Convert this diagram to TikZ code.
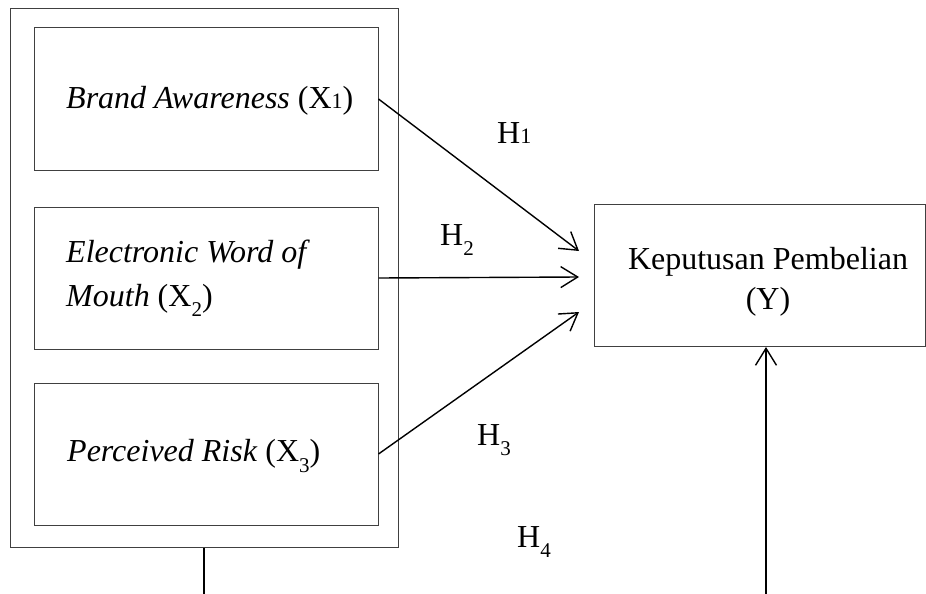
\documentclass[tikz,border=0pt]{standalone}
\usepackage{fontspec}
\setmainfont{Liberation Serif}
\usetikzlibrary{arrows.meta}
\newcommand{\lowsub}[1]{\raisebox{-0.32em}{\fontsize{21}{21}\selectfont #1}}
\begin{document}
\begin{tikzpicture}[x=1pt,y=-1pt,
  box/.style={draw=black!75, line width=1pt, inner sep=0pt},
  varbox/.style={box, minimum width=344pt, minimum height=142pt},
  vartext/.style={anchor=west, inner sep=0pt, align=left, font=\fontsize{32}{44}\selectfont},
  conn/.style={line width=1.4pt, -{Straight Barb[length=17pt,width=21pt,line width=1.4pt]}},
  plain/.style={line width=1.4pt},
  hlab/.style={anchor=base west, inner sep=0pt, font=\fontsize{32}{36}\selectfont}]
\useasboundingbox (0,0) rectangle (926,594);
% boxes
\node[box, minimum width=388pt, minimum height=538pt] (outer) at (204,278) {};
\node[varbox] (b1) at (206,99) {};
\node[varbox] (b2) at (206,278) {};
\node[varbox] (b3) at (206,454) {};
\node[vartext] (t1) at (66,101) {\textit{Brand Awareness} (X{\fontsize{22}{22}\selectfont 1})};
\node[vartext] (t2) at (66,278) {\textit{Electronic Word of}\\\textit{Mouth} (X\lowsub{2})};
\node[vartext] (t3) at (67,456) {\textit{Perceived Risk} (X\lowsub{3})};
\node[box, minimum width=331pt, minimum height=142pt] (yb) at (759.5,275.5) {};
\node[align=center, inner sep=0pt, font=\fontsize{32}{40}\selectfont] (ytext) at (768,282) {Keputusan Pembelian\\(Y)};
% connector ends
\coordinate (e1) at (579,251);
\coordinate (e2) at (579,277);
\coordinate (e3) at (579,312);
\coordinate (bl) at (204,594);
\coordinate (br) at (766,594);
% connectors
\draw[conn] (b1.east) -- (e1);
\draw[conn] (b2.east) -- (e2);
\draw[conn] (b3.east) -- (e3);
\draw[plain] (outer.south) -- (bl);
\draw[conn] (br) -- (yb.south -| br);
% hypothesis labels
\node[hlab] (h1) at (497,143) {H{\fontsize{22}{22}\selectfont 1}};
\node[hlab] (h2) at (440,245) {H\lowsub{2}};
\node[hlab] (h3) at (477,445) {H\lowsub{3}};
\node[hlab] (h4) at (517,547) {H\lowsub{4}};
\end{tikzpicture}
\end{document}
